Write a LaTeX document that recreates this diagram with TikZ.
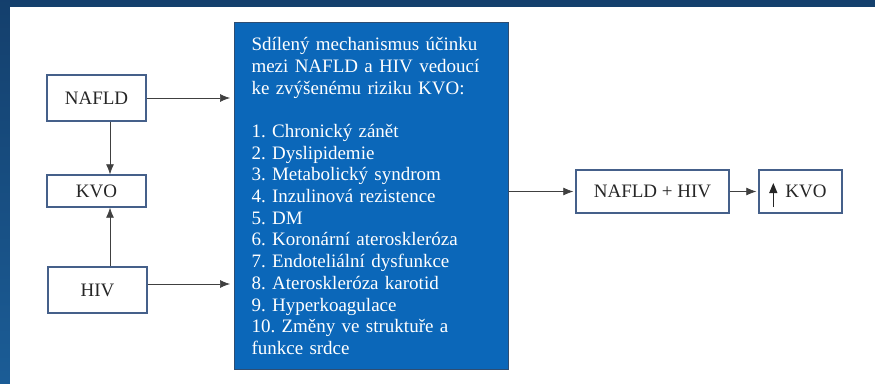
\documentclass[tikz,border=0pt]{standalone}
\usepackage{fontspec}
\setmainfont{Liberation Serif}
\usetikzlibrary{arrows.meta,calc}
\definecolor{navytop}{HTML}{143F6C}
\definecolor{navybot}{HTML}{1B5D97}
\definecolor{boxline}{HTML}{45608A}
\definecolor{mechblue}{HTML}{0B67B9}
\definecolor{mechline}{HTML}{2E4D72}
\definecolor{arrowgray}{HTML}{404040}
\frenchspacing
\begin{document}
\begin{tikzpicture}[x=1pt,y=-1pt,
  every node/.style={font=\fontsize{19}{21.7}\selectfont},
  wbox/.style={draw=boxline,line width=1.4pt,fill=white,text=black!85,inner sep=0pt},
  conn/.style={draw=arrowgray,line width=0.7pt,-{Latex[length=10pt,width=8pt]}}]
\useasboundingbox (0,0) rectangle (875,383);
\fill[top color=navytop,bottom color=navybot] (-5,-5) rectangle (880,390);
\fill[white] (10,7) rectangle (885,395);

\node[wbox,minimum width=99pt,minimum height=46pt] (nafld) at (96.5,98) {NAFLD};
\node[wbox,minimum width=99pt,minimum height=32pt] (kvo) at (96.5,191) {KVO};
\node[wbox,minimum width=99pt,minimum height=46pt] (hiv) at (97.5,290) {HIV};

\node[draw=mechline,line width=1pt,fill=mechblue,text=white,anchor=north west,
  minimum width=274pt,minimum height=347pt,text width=240pt,inner xsep=17pt,
  inner ysep=0pt,align=left] (mech) at (234,22) {Sdílený mechanismus účinku\\
mezi NAFLD a HIV vedoucí\\
ke zvýšenému riziku KVO:\\[21.7pt]
1. Chronický zánět\\
2. Dyslipidemie\\
3. Metabolický syndrom\\
4. Inzulinová rezistence\\
5. DM\\
6. Koronární ateroskleróza\\
7. Endoteliální dysfunkce\\
8. Ateroskleróza karotid\\
9. Hyperkoagulace\\
10. Změny ve struktuře a\\
funkce srdce};

\node[wbox,minimum width=153pt,minimum height=43pt] (combo) at (652.5,191.5) {NAFLD + HIV};
\node[wbox,minimum width=83pt,minimum height=43pt] (risk) at (800.5,191.5) {\hspace*{11pt}KVO};
\draw[black!85,line width=1.2pt,-{Triangle[length=10pt,width=8pt]}] ($(risk.west)+(15,15.5)$) -- ($(risk.west)+(15,-8.5)$);

\coordinate (vx) at (110,0);
\coordinate (hy) at (0,284);
\draw[conn] (nafld.south -| vx) -- (kvo.north -| vx);
\draw[conn] (hiv.north -| vx) -- (kvo.south -| vx);
\draw[conn,shorten >=4pt] (nafld.east) -- (nafld.east -| mech.west);
\draw[conn,shorten >=4pt] (hiv.east |- hy) -- (mech.west |- hy);
\draw[conn,shorten >=2pt] (mech.east |- combo.west) -- (combo.west);
\draw[conn,shorten >=2pt] (combo.east) -- (risk.west);
\end{tikzpicture}
\end{document}
